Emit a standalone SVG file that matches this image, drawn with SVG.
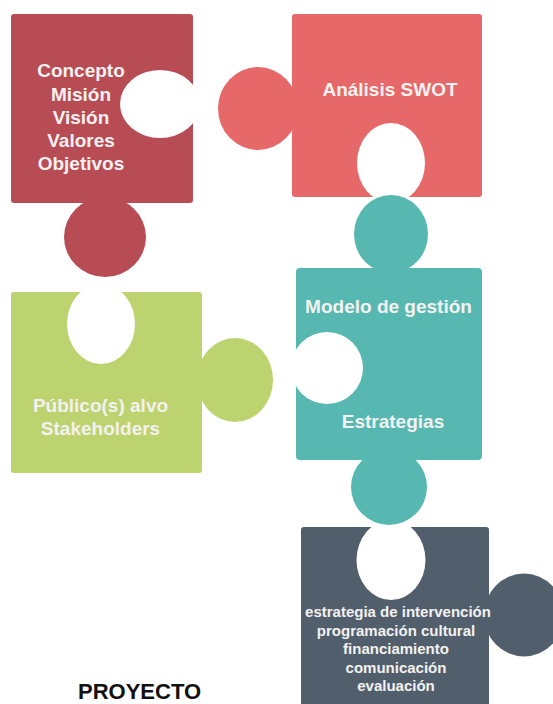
<svg xmlns="http://www.w3.org/2000/svg" width="553" height="704" viewBox="0 0 553 704">
<style>
.t{font-family:"Liberation Sans",Arial,sans-serif;font-weight:bold;fill:#F4F1F1;text-anchor:middle}
.big{font-size:19px}
.small{font-size:15px}
.hole{fill:#000}
.bg{fill:#fff}
</style>
<defs>
<mask id="m1" maskUnits="userSpaceOnUse" x="0" y="0" width="553" height="704">
<rect class="bg" x="0" y="0" width="553" height="704"/>
<ellipse class="hole" cx="160" cy="104" rx="40" ry="34"/>
</mask>
<mask id="m2" maskUnits="userSpaceOnUse" x="0" y="0" width="553" height="704">
<rect class="bg" x="0" y="0" width="553" height="704"/>
<ellipse class="hole" cx="391" cy="163" rx="34" ry="40"/>
</mask>
<mask id="m3" maskUnits="userSpaceOnUse" x="0" y="0" width="553" height="704">
<rect class="bg" x="0" y="0" width="553" height="704"/>
<ellipse class="hole" cx="101" cy="324" rx="34" ry="40"/>
</mask>
<mask id="m4" maskUnits="userSpaceOnUse" x="0" y="0" width="553" height="704">
<rect class="bg" x="0" y="0" width="553" height="704"/>
<ellipse class="hole" cx="327" cy="368" rx="36" ry="36"/>
</mask>
<mask id="m5" maskUnits="userSpaceOnUse" x="0" y="0" width="553" height="704">
<rect class="bg" x="0" y="0" width="553" height="704"/>
<ellipse class="hole" cx="391" cy="560" rx="34.5" ry="40"/>
</mask>
</defs>

<g id="piece-concepto">
<g mask="url(#m1)" fill="#B84C55">
<rect x="11" y="14" width="182" height="189" rx="3"/>
<ellipse cx="105" cy="237" rx="41" ry="40"/>
</g>
<text class="t big" x="81" y="77">Concepto</text>
<text class="t big" x="81" y="100.5">Misión</text>
<text class="t big" x="81" y="124">Visión</text>
<text class="t big" x="81" y="147">Valores</text>
<text class="t big" x="81" y="170">Objetivos</text>
</g>

<g id="piece-swot">
<g mask="url(#m2)" fill="#E66869">
<rect x="292" y="14" width="190" height="183" rx="3"/>
<ellipse cx="258" cy="108.5" rx="40" ry="41.5"/>
</g>
<text class="t big" x="390" y="96">Análisis SWOT</text>
</g>

<g id="piece-publico">
<g mask="url(#m3)" fill="#BDD36F">
<rect x="11" y="292" width="191" height="181" rx="3"/>
<ellipse cx="235" cy="380" rx="38" ry="42"/>
</g>
<text class="t big" x="100.5" y="412">Público(s) alvo</text>
<text class="t big" x="100.5" y="435">Stakeholders</text>
</g>

<g id="piece-modelo">
<g mask="url(#m4)" fill="#56B8B1">
<rect x="296" y="268" width="186" height="192" rx="4"/>
<ellipse cx="391" cy="234" rx="37" ry="39"/>
<ellipse cx="389" cy="487" rx="38" ry="38"/>
</g>
<text class="t big" x="388.5" y="313">Modelo de gestión</text>
<text class="t big" x="393" y="428">Estrategias</text>
</g>

<g id="piece-estrategia">
<g mask="url(#m5)" fill="#515F6C">
<rect x="301" y="527" width="188" height="182" rx="3"/>
<ellipse cx="524" cy="615" rx="40" ry="41.5"/>
</g>
<text class="t small" x="398" y="617">estrategia de intervención</text>
<text class="t small" x="396" y="635.5">programación cultural</text>
<text class="t small" x="396" y="654">financiamiento</text>
<text class="t small" x="396" y="672.5">comunicación</text>
<text class="t small" x="396" y="691">evaluación</text>
</g>

<g id="connectors"></g>

<text id="title" x="139.5" y="699" font-family="Liberation Sans, Arial, sans-serif" font-weight="bold" font-size="22" fill="#111" text-anchor="middle">PROYECTO</text>
</svg>
